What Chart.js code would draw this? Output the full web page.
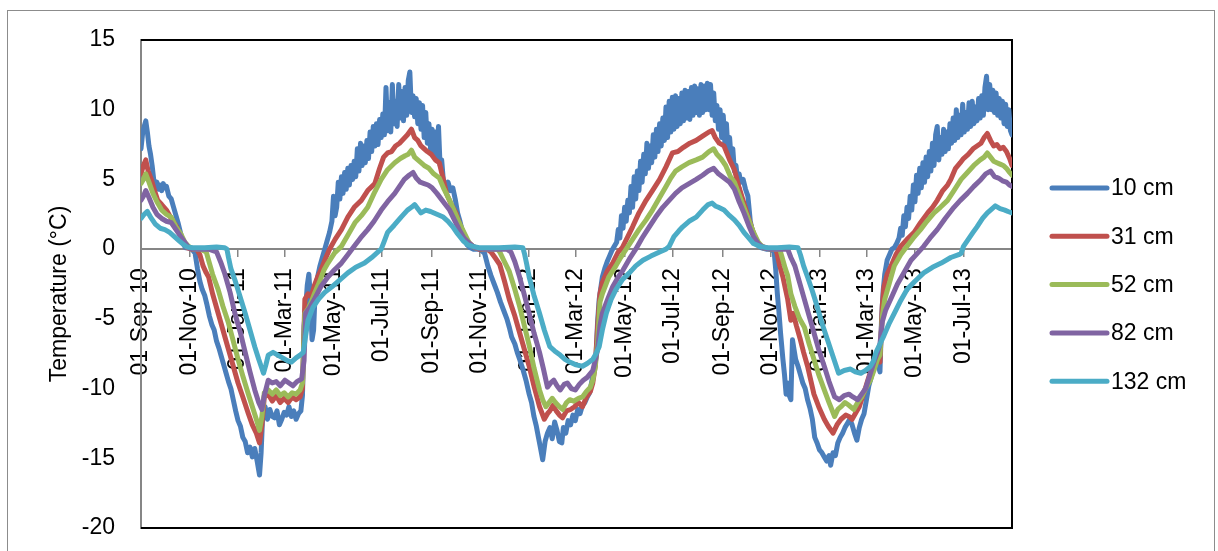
<!DOCTYPE html>
<html><head><meta charset="utf-8">
<script src="https://cdn.jsdelivr.net/npm/chart.js@4.4.0/dist/chart.umd.min.js"></script>
<style>html,body{margin:0;padding:0;background:#fff}#wrap{width:1218px;height:551px;position:relative}</style>
</head><body><div id="wrap"><canvas id="c" width="1218" height="551"></canvas></div>
<script>
// Day offsets are counted from 01-Sep-2010
const seriesNames = ['10 cm', '31 cm', '52 cm', '82 cm', '132 cm'];
const seriesColors = ['#4A7EBB', '#C0504D', '#9BBB59', '#8064A2', '#4BACC6'];
const tickLabels = ['01-Sep-10','01-Nov-10','01-Jan-11','01-Mar-11','01-May-11','01-Jul-11','01-Sep-11','01-Nov-11','01-Jan-12','01-Mar-12','01-May-12','01-Jul-12','01-Sep-12','01-Nov-12','01-Jan-13','01-Mar-13','01-May-13','01-Jul-13'];
const yTickValues = [-20, -15, -10, -5, 0, 5, 10, 15];
const yTitle = 'Temperature (°C)';

// 10 cm
const t10 = [[0,7.2],[2,8.3],[4,8.8],[6,9.2],[8,8.4],[10,7.4],[12,6.8],[14,6.0],[16,5.0],[18,4.6],[20,4.8],[22,4.3],[24,4.6],[26,4.2],[28,4.7],[30,4.4],[32,4.5],[35,3.8],[38,3.6],[41,3.0],[44,2.4],[47,1.8],[50,1.1],[53,0.4],[56,0.1],[60,0.1],[64,0.0],[68,-0.3],[71,-1.4],[74,-2.3],[77,-2.9],[80,-3.3],[83,-4.0],[86,-4.8],[89,-5.4],[92,-5.8],[95,-6.6],[98,-7.1],[101,-7.7],[104,-8.3],[107,-8.9],[110,-9.5],[113,-10.0],[116,-10.8],[119,-11.6],[122,-12.3],[125,-12.7],[128,-13.5],[131,-13.8],[134,-14.6],[137,-14.2],[140,-14.9],[143,-14.3],[146,-15.2],[149,-16.2],[151,-14.6],[153,-11.9],[156,-11.3],[159,-12.2],[162,-11.5],[165,-12.0],[168,-12.1],[171,-11.6],[174,-12.6],[177,-12.2],[180,-11.7],[183,-11.9],[186,-11.3],[189,-12.0],[192,-11.6],[195,-12.2],[198,-11.8],[201,-11.6],[203,-10.5],[205,-5.5],[207,-4.2],[209,-2.6],[211,-1.8],[213,-3.5],[215,-6.5],[217,-5.8],[219,-3.0],[222,-2.0],[225,-1.2],[228,-0.6],[231,0.0],[234,0.6],[237,1.2],[240,2.0],[242,3.8],[244,2.4],[246,3.0],[248,4.8],[250,3.6],[252,5.2],[254,4.0],[256,5.5],[258,4.3],[260,5.8],[262,4.6],[264,6.0],[266,5.0],[268,6.3],[270,5.2],[272,7.2],[274,5.6],[276,7.6],[278,6.0],[280,7.4],[282,6.2],[284,7.8],[286,6.5],[288,8.4],[290,7.0],[292,8.8],[294,7.4],[296,9.0],[298,7.5],[300,9.3],[302,8.0],[304,9.7],[306,8.2],[308,11.6],[310,8.5],[312,10.5],[314,8.4],[316,11.8],[318,9.0],[320,10.6],[322,8.8],[324,11.8],[326,9.4],[328,11.3],[330,9.2],[332,11.6],[334,9.6],[336,12.1],[338,12.7],[340,9.8],[342,11.0],[344,9.5],[346,10.8],[348,9.0],[350,10.5],[352,8.6],[354,10.3],[356,8.0],[358,9.8],[360,7.6],[362,9.0],[364,7.2],[366,8.6],[368,6.8],[370,8.4],[372,6.5],[374,8.8],[376,6.0],[378,6.4],[380,5.0],[383,4.5],[386,4.8],[389,4.2],[392,4.4],[395,3.6],[398,2.6],[401,2.0],[404,1.3],[407,0.7],[410,0.3],[414,0.1],[418,0.0],
[426,0.0],[432,-0.3],[436,-1.2],[440,-1.9],[444,-2.5],[448,-3.1],[452,-3.8],[456,-4.4],[460,-5.0],[463,-5.6],[466,-6.3],[470,-6.8],[473,-7.4],[476,-7.9],[480,-8.6],[484,-9.4],[488,-10.4],[491,-11.0],[494,-12.0],[497,-12.7],[500,-13.6],[502,-14.2],[505,-15.1],[508,-13.8],[511,-13.2],[514,-12.8],[517,-13.6],[520,-12.4],[523,-13.0],[526,-13.8],[529,-13.9],[531,-12.8],[534,-13.2],[537,-12.3],[540,-12.6],[543,-11.9],[546,-12.3],[549,-11.5],[552,-11.8],[555,-11.2],[558,-11.0],[561,-10.6],[564,-10.3],[567,-9.4],[570,-8.6],[572,-7.8],[574,-5.2],[576,-3.6],[578,-2.8],[580,-2.0],[583,-1.4],[586,-0.9],[589,-0.5],[592,-0.1],[595,0.2],[598,0.5],[600,1.4],[602,0.8],[604,2.4],[606,1.5],[608,3.0],[610,2.0],[612,3.5],[614,2.6],[616,4.5],[618,3.0],[620,5.2],[622,3.6],[624,5.6],[626,4.2],[628,6.3],[630,4.8],[632,6.8],[634,5.4],[636,7.6],[638,5.8],[640,7.4],[642,6.2],[644,8.2],[646,6.6],[648,8.6],[650,7.0],[652,9.0],[654,7.4],[656,9.4],[658,7.8],[660,10.2],[662,8.0],[664,10.6],[666,8.4],[668,10.9],[670,8.6],[672,11.0],[674,8.8],[676,10.8],[678,9.0],[680,11.2],[682,9.2],[684,11.4],[686,9.4],[688,11.3],[690,9.3],[692,11.6],[694,9.6],[696,11.7],[698,9.8],[700,11.5],[702,9.6],[704,11.8],[706,9.8],[708,11.7],[710,10.0],[712,11.9],[714,10.0],[716,11.8],[718,9.6],[720,11.2],[722,9.2],[724,10.3],[726,8.6],[728,10.0],[730,8.0],[732,9.6],[734,7.6],[736,9.0],[738,7.0],[740,8.0],[742,6.4],[744,7.2],[746,5.6],[748,6.0],[750,5.0],[752,5.4],[754,4.8],[757,5.0],[760,4.3],[763,3.8],[766,2.0],[769,1.2],[772,0.6],[775,0.3],[780,0.1],[786,0.0],[792,0.0],
[796,-0.2],[798,-1.5],[800,-3.2],[802,-4.5],[804,-6.0],[807,-7.9],[809,-9.0],[811,-10.4],[813,-9.6],[815,-10.5],[817,-10.8],[819,-6.5],[821,-7.2],[823,-7.9],[826,-8.4],[829,-9.0],[832,-9.6],[835,-10.0],[838,-10.8],[841,-11.4],[844,-12.2],[847,-13.5],[850,-13.9],[853,-14.4],[856,-14.6],[859,-14.9],[862,-15.2],[865,-14.8],[867,-15.5],[870,-14.6],[873,-14.8],[876,-13.9],[879,-13.5],[882,-13.2],[885,-12.8],[888,-12.5],[891,-12.2],[894,-12.6],[897,-13.2],[900,-13.7],[903,-12.8],[906,-12.2],[909,-11.8],[912,-10.8],[915,-9.8],[918,-9.2],[921,-8.5],[924,-7.9],[927,-8.4],[929,-8.8],[931,-5.0],[933,-3.0],[935,-1.8],[938,-0.8],[941,-0.4],[944,0.0],[947,0.1],[950,0.4],[953,0.8],[955,1.5],[957,1.0],[959,2.4],[961,1.6],[963,3.0],[965,2.2],[967,3.8],[969,2.8],[971,4.6],[973,3.4],[975,5.3],[977,4.0],[979,5.8],[981,4.4],[983,6.2],[985,4.8],[987,6.6],[989,5.2],[991,7.0],[993,5.6],[995,7.6],[997,6.0],[999,8.2],[1001,8.8],[1003,6.4],[1005,8.0],[1007,6.8],[1009,8.6],[1011,7.0],[1013,8.4],[1015,7.2],[1017,9.0],[1019,7.6],[1021,9.4],[1023,7.8],[1025,10.0],[1027,8.0],[1029,9.6],[1031,8.2],[1033,10.4],[1035,8.4],[1037,9.8],[1039,8.6],[1041,10.5],[1043,8.8],[1045,10.6],[1047,9.0],[1049,10.2],[1051,9.2],[1053,10.8],[1055,9.4],[1057,11.0],[1059,9.6],[1061,11.6],[1063,12.4],[1065,10.0],[1067,11.8],[1069,10.0],[1071,11.4],[1073,9.8],[1075,11.2],[1077,9.6],[1079,10.8],[1081,9.4],[1083,10.6],[1085,9.0],[1087,10.4],[1089,8.8],[1091,10.0],[1093,8.5],[1095,8.2]];

// 31 cm
const t31 = [[0,5.4],[3,6.0],[6,6.4],[9,5.6],[13,5.0],[17,4.2],[21,3.5],[26,3.2],[32,2.8],[38,2.2],[45,1.6],[50,0.9],[54,0.4],[58,0.1],[64,0.0],[70,0.0],[74,-0.4],[78,-1.2],[82,-1.7],[85,-2.0],[90,-3.2],[97,-4.6],[103,-5.8],[110,-7.2],[116,-8.4],[122,-9.6],[128,-10.6],[135,-11.8],[140,-12.6],[145,-13.2],[149,-13.9],[152,-12.6],[155,-10.6],[160,-10.4],[165,-10.9],[170,-10.5],[175,-11.0],[180,-10.7],[185,-11.0],[190,-10.6],[195,-10.8],[200,-10.6],[203,-10.0],[206,-3.6],[210,-3.2],[214,-3.4],[218,-2.6],[222,-2.0],[227,-1.4],[231,-0.8],[237,0.0],[244,0.7],[252,1.4],[260,2.3],[268,3.0],[277,3.5],[285,4.2],[294,4.7],[300,5.8],[305,6.6],[310,6.9],[315,7.0],[320,7.4],[325,7.6],[330,7.9],[335,8.2],[340,8.6],[344,8.0],[348,7.8],[352,7.4],[356,7.2],[360,7.0],[365,6.8],[370,6.4],[375,6.2],[380,5.0],[384,4.0],[390,3.2],[396,2.6],[400,1.9],[405,1.2],[410,0.6],[417,0.2],[425,0.0],[435,0.0],
[440,-0.2],[445,-0.6],[451,-1.1],[457,-2.3],[463,-3.6],[470,-4.8],[476,-6.0],[482,-7.2],[488,-8.4],[494,-9.8],[501,-11.3],[507,-12.2],[511,-11.8],[514,-11.6],[518,-11.2],[522,-11.6],[526,-11.9],[530,-12.1],[535,-11.6],[540,-11.5],[545,-11.3],[550,-11.0],[555,-11.3],[560,-10.6],[565,-10.2],[568,-9.6],[571,-8.4],[574,-5.6],[577,-3.2],[580,-2.4],[586,-1.6],[593,-1.0],[600,-0.2],[605,0.1],[612,0.9],[618,1.6],[626,2.6],[635,3.5],[643,4.2],[652,5.0],[660,5.9],[668,6.9],[675,7.0],[682,7.3],[690,7.6],[698,7.8],[706,8.1],[714,8.4],[718,8.5],[722,8.0],[727,7.6],[733,7.4],[740,6.4],[746,5.7],[752,4.4],[758,3.3],[764,2.2],[768,1.5],[773,0.7],[778,0.3],[785,0.1],[792,0.0],[798,0.0],
[800,-0.4],[803,-1.2],[807,-2.0],[810,-2.8],[813,-3.6],[817,-5.1],[820,-4.6],[824,-5.5],[829,-6.5],[833,-7.4],[838,-8.4],[842,-9.4],[846,-10.4],[852,-11.3],[859,-12.2],[864,-12.7],[870,-13.2],[875,-12.6],[880,-12.2],[886,-11.9],[890,-12.0],[894,-12.2],[899,-11.7],[903,-11.3],[907,-10.6],[911,-9.9],[916,-9.0],[920,-8.4],[926,-7.9],[929,-8.1],[932,-4.0],[934,-2.7],[938,-1.8],[943,-1.2],[949,-0.4],[955,0.2],[963,0.7],[972,1.2],[980,1.9],[989,2.6],[995,3.0],[1001,3.5],[1008,4.2],[1014,4.6],[1018,5.0],[1024,5.8],[1030,6.2],[1034,6.5],[1040,6.8],[1046,7.2],[1051,7.4],[1056,7.6],[1060,8.0],[1064,8.3],[1068,7.8],[1072,7.4],[1076,7.5],[1080,7.2],[1084,7.3],[1088,7.0],[1092,6.5],[1095,6.0]];

// 52 cm
const t52 = [[0,4.7],[3,5.0],[6,5.4],[10,4.8],[15,4.0],[20,3.4],[26,2.8],[32,2.5],[38,2.3],[44,1.6],[50,1.1],[55,0.5],[60,0.2],[66,0.0],[75,0.0],[82,-0.2],[86,-1.0],[90,-1.8],[97,-2.9],[103,-4.1],[110,-5.3],[116,-6.6],[122,-7.9],[128,-9.1],[135,-10.4],[140,-11.3],[145,-12.2],[149,-13.0],[152,-12.0],[155,-10.3],[160,-10.1],[165,-10.4],[170,-10.1],[175,-10.5],[180,-10.3],[185,-10.6],[190,-10.3],[195,-10.4],[200,-10.1],[203,-9.6],[206,-4.6],[210,-4.3],[214,-3.8],[218,-3.2],[224,-2.4],[230,-1.5],[235,-1.0],[243,-0.3],[252,0.2],[260,1.0],[269,1.9],[277,2.4],[285,3.0],[293,4.0],[302,5.0],[310,5.7],[319,6.2],[326,6.5],[332,6.7],[336,6.8],[340,7.1],[344,6.6],[348,6.4],[352,6.2],[356,6.0],[362,5.8],[368,5.4],[375,5.1],[381,4.3],[388,3.5],[394,2.7],[400,1.9],[406,1.2],[413,0.4],[420,0.1],[430,0.0],[448,0.0],
[451,-0.2],[456,-0.8],[463,-1.6],[470,-2.9],[476,-4.1],[482,-5.5],[488,-6.9],[494,-8.5],[501,-10.1],[505,-10.8],[509,-11.3],[513,-11.0],[517,-10.7],[521,-11.0],[526,-11.3],[530,-11.5],[535,-11.0],[539,-10.8],[544,-10.9],[550,-10.7],[555,-10.6],[560,-10.2],[565,-9.9],[568,-9.4],[571,-8.5],[574,-6.7],[577,-3.8],[580,-3.2],[588,-2.0],[597,-1.2],[603,-0.6],[610,0.0],[618,0.7],[626,1.4],[635,2.1],[643,2.8],[652,3.7],[660,4.5],[666,5.1],[672,5.6],[680,5.9],[689,6.2],[698,6.4],[706,6.6],[714,7.0],[720,7.2],[724,6.8],[729,6.5],[735,6.0],[741,5.2],[746,4.8],[752,3.9],[758,3.0],[764,2.1],[770,1.2],[776,0.5],[782,0.1],[790,0.0],[803,0.0],
[806,-0.6],[810,-1.4],[813,-1.9],[817,-3.2],[822,-4.1],[828,-5.0],[834,-5.6],[840,-6.8],[846,-7.9],[852,-9.0],[859,-10.1],[865,-11.0],[872,-12.0],[876,-11.5],[880,-11.3],[885,-11.0],[890,-11.2],[896,-11.5],[901,-11.0],[906,-10.6],[911,-10.0],[917,-9.4],[922,-8.6],[926,-7.9],[929,-7.6],[932,-4.8],[935,-3.6],[941,-2.4],[947,-1.2],[955,-0.4],[963,0.2],[971,0.8],[980,1.4],[988,2.0],[997,2.6],[1005,3.0],[1014,3.5],[1022,4.2],[1031,5.0],[1039,5.5],[1047,6.0],[1055,6.4],[1060,6.6],[1064,6.9],[1068,6.6],[1072,6.3],[1076,6.2],[1080,6.1],[1084,6.0],[1088,5.8],[1092,5.5],[1095,5.3]];

// 82 cm
const t82 = [[0,3.5],[3,3.8],[6,4.2],[10,3.7],[15,3.0],[20,2.5],[26,2.2],[32,2.0],[38,1.9],[44,1.4],[50,0.9],[55,0.5],[60,0.1],[66,0.0],[85,0.0],[95,-0.2],[100,-0.9],[105,-1.7],[112,-3.1],[118,-4.6],[125,-6.0],[131,-7.4],[137,-8.8],[143,-10.1],[148,-11.0],[152,-11.5],[155,-10.5],[160,-9.4],[165,-9.6],[170,-9.5],[175,-9.8],[181,-9.4],[186,-9.6],[191,-9.8],[196,-9.5],[202,-9.3],[205,-8.0],[207,-4.6],[212,-4.2],[218,-3.6],[226,-2.7],[235,-2.0],[243,-1.5],[252,-1.0],[260,-0.4],[268,0.2],[276,0.8],[285,1.4],[293,2.0],[302,2.8],[310,3.4],[319,4.0],[325,4.5],[331,5.0],[337,5.3],[342,5.5],[346,5.1],[351,4.8],[356,4.7],[361,4.6],[366,4.4],[372,4.0],[380,3.4],[388,2.8],[394,2.1],[400,1.4],[406,0.8],[413,0.4],[420,0.1],[430,0.0],[460,0.0],
[465,-0.2],[470,-0.9],[476,-2.0],[482,-3.3],[488,-4.6],[494,-6.0],[501,-7.4],[506,-8.6],[511,-9.9],[515,-9.6],[519,-9.4],[523,-9.8],[527,-10.1],[532,-9.7],[536,-9.6],[541,-10.0],[546,-10.1],[551,-9.7],[556,-9.4],[561,-9.2],[568,-8.7],[571,-8.0],[574,-7.2],[577,-5.5],[580,-4.6],[586,-3.7],[593,-2.7],[600,-2.0],[606,-1.5],[614,-0.7],[622,0.0],[630,0.8],[639,1.6],[647,2.3],[656,3.0],[664,3.5],[672,4.0],[680,4.4],[689,4.7],[698,5.0],[706,5.3],[713,5.6],[720,5.8],[726,5.4],[733,5.1],[740,4.8],[746,4.3],[752,3.4],[758,2.6],[764,1.7],[770,0.9],[776,0.4],[782,0.1],[790,0.0],[813,0.0],
[817,-0.6],[822,-1.2],[828,-2.4],[834,-3.6],[840,-4.8],[846,-6.0],[852,-7.2],[859,-8.4],[865,-9.5],[872,-10.6],[878,-10.8],[884,-10.5],[890,-10.4],[895,-10.6],[901,-10.8],[906,-10.4],[911,-10.0],[917,-8.9],[922,-8.0],[926,-7.4],[929,-6.8],[932,-5.2],[936,-4.4],[944,-3.4],[951,-2.5],[960,-1.6],[968,-0.8],[976,-0.3],[984,0.2],[992,0.8],[1001,1.4],[1011,2.2],[1022,3.0],[1030,3.5],[1039,4.0],[1047,4.5],[1056,5.0],[1062,5.4],[1068,5.6],[1073,5.2],[1078,5.1],[1083,4.9],[1088,4.8],[1092,4.6],[1095,4.5]];

// 132 cm
const t132 = [[0,2.2],[4,2.5],[8,2.7],[12,2.3],[18,1.8],[24,1.5],[30,1.4],[36,1.2],[42,0.9],[48,0.6],[54,0.3],[58,0.15],[65,0.1],[80,0.1],[95,0.15],[105,0.1],[108,0.0],[110,-0.6],[113,-1.4],[118,-2.2],[124,-3.3],[131,-4.6],[137,-5.8],[143,-7.0],[148,-7.9],[154,-8.9],[157,-8.3],[160,-7.6],[166,-7.4],[172,-7.6],[178,-7.8],[184,-8.0],[189,-8.1],[195,-7.8],[200,-7.6],[204,-7.4],[207,-6.2],[210,-5.1],[216,-4.2],[223,-3.6],[231,-3.1],[240,-2.7],[250,-2.2],[260,-1.7],[270,-1.3],[281,-1.0],[290,-0.6],[298,-0.2],[302,0.0],[306,0.6],[310,1.2],[318,1.7],[327,2.3],[335,2.8],[340,3.0],[344,3.2],[348,2.9],[352,2.6],[358,2.8],[364,2.7],[372,2.5],[380,2.3],[386,2.0],[392,1.6],[398,1.1],[405,0.6],[411,0.3],[417,0.2],[425,0.1],[450,0.1],[470,0.15],[480,0.1],
[482,-0.3],[485,-1.1],[488,-2.0],[494,-3.3],[501,-4.6],[507,-5.8],[514,-7.0],[520,-7.3],[527,-7.6],[533,-7.9],[539,-8.1],[547,-8.3],[555,-8.4],[561,-8.2],[568,-7.9],[572,-7.5],[576,-7.0],[580,-5.8],[585,-4.6],[591,-3.6],[597,-2.9],[605,-2.2],[614,-1.7],[622,-1.2],[631,-0.8],[641,-0.5],[652,-0.2],[660,0.0],[664,0.2],[670,0.9],[676,1.3],[681,1.6],[689,2.0],[698,2.3],[706,2.8],[713,3.2],[718,3.3],[722,3.1],[726,3.0],[733,2.8],[740,2.4],[746,2.1],[752,1.7],[758,1.2],[764,0.8],[770,0.4],[778,0.2],[788,0.1],[800,0.1],[815,0.15],[826,0.1],
[829,-0.4],[833,-1.2],[838,-2.0],[844,-3.0],[850,-4.1],[856,-5.3],[863,-6.5],[870,-7.7],[877,-8.9],[884,-8.7],[892,-8.6],[898,-8.8],[905,-8.9],[911,-8.7],[917,-8.4],[921,-8.0],[924,-7.4],[929,-6.8],[934,-6.2],[940,-5.4],[947,-4.6],[955,-3.7],[963,-2.9],[973,-2.3],[984,-1.7],[995,-1.3],[1006,-1.0],[1018,-0.6],[1028,-0.4],[1031,-0.3],[1034,0.2],[1040,0.7],[1046,1.2],[1051,1.6],[1058,2.2],[1064,2.6],[1068,2.8],[1074,3.1],[1080,2.9],[1086,2.8],[1090,2.7],[1095,2.6]];

const allSeries = [t10, t31, t52, t82, t132];
const xMaxDay = 1095;

const MONTHS = {Jan:0,Feb:1,Mar:2,Apr:3,May:4,Jun:5,Jul:6,Aug:7,Sep:8,Oct:9,Nov:10,Dec:11};
const ORIGIN = Date.UTC(2010, 8, 1);
function labelToDay(lbl) {
  const [d, m, y] = lbl.split('-');
  return Math.round((Date.UTC(2000 + (+y), MONTHS[m], +d) - ORIGIN) / 86400000);
}
const tickDays = tickLabels.map(labelToDay);

const FONT = '"Liberation Sans", Arial, sans-serif';

const framePlugin = {
  id: 'frame',
  beforeDatasetsDraw(chart) {
    const {ctx, chartArea: a} = chart;
    ctx.save();
    ctx.strokeStyle = '#000';
    ctx.lineWidth = 2;
    ctx.beginPath();
    ctx.moveTo(a.left, a.top); ctx.lineTo(a.right, a.top);
    ctx.lineTo(a.right, a.bottom); ctx.lineTo(a.left, a.bottom);
    ctx.stroke();
    ctx.restore();
  },
  afterDraw(chart) {
    const {ctx} = chart;
    ctx.save();
    ctx.strokeStyle = '#8c8c8c';
    ctx.lineWidth = 1;
    ctx.strokeRect(7.5, 10.5, 1207, 560);
    // axis title
    ctx.fillStyle = '#000';
    ctx.font = '23px ' + FONT;
    ctx.translate(60, 294);
    ctx.rotate(-Math.PI / 2);
    ctx.textAlign = 'center';
    ctx.textBaseline = 'middle';
    ctx.fillText(yTitle, 0, 0);
    ctx.setTransform(1, 0, 0, 1, 0, 0);
    // legend
    const x0 = 1052, x1 = 1107, y0 = 188, dy = 48.3;
    chart.data.datasets.forEach((ds, i) => {
      const y = y0 + i * dy;
      ctx.strokeStyle = ds.borderColor;
      ctx.lineWidth = 5;
      ctx.lineCap = 'round';
      ctx.beginPath(); ctx.moveTo(x0, y); ctx.lineTo(x1, y); ctx.stroke();
      ctx.fillStyle = '#000';
      ctx.font = '23px ' + FONT;
      ctx.textBaseline = 'middle';
      ctx.textAlign = 'left';
      ctx.fillText(ds.label, 1111, y + 1);
    });
    ctx.restore();
  }
};

new Chart(document.getElementById('c'), {
  type: 'line',
  data: {
    datasets: allSeries.map((s, i) => ({
      label: seriesNames[i],
      data: s.map(([d, v]) => ({x: d, y: v})),
      borderColor: seriesColors[i],
      backgroundColor: seriesColors[i],
      borderWidth: 5,
      pointRadius: 0,
      tension: 0,
      fill: false,
      borderJoinStyle: 'round',
      borderCapStyle: 'round',
      order: 5 - i
    }))
  },
  options: {
    responsive: false,
    animation: false,
    devicePixelRatio: 1,
    layout: {padding: {left: 0, top: 40, right: 206, bottom: 23}},
    plugins: {legend: {display: false}, tooltip: {enabled: false}},
    scales: {
      x: {
        type: 'linear',
        min: 0, max: xMaxDay,
        position: {y: 0},
        afterFit(s) { s.height = 0; s.paddingLeft = 0; s.paddingRight = 0; s.paddingTop = 0; s.paddingBottom = 0; },
        afterBuildTicks(s) { s.ticks = tickDays.map(v => ({value: v})); },
        ticks: {
          autoSkip: false, minRotation: 90, maxRotation: 90,
          padding: 12, color: '#000',
          font: {size: 23, family: FONT},
          callback: (v, i) => tickLabels[i]
        },
        grid: {display: true, drawOnChartArea: false, drawTicks: true, tickLength: 7, color: '#868686', lineWidth: 1.5},
        border: {display: true, color: '#868686', width: 2}
      },
      y: {
        type: 'linear',
        min: -20, max: 15,
        afterFit(s) { s.width = 141; s.paddingTop = 0; s.paddingBottom = 0; },
        afterBuildTicks(s) { s.ticks = yTickValues.map(v => ({value: v})); },
        ticks: {padding: 26, color: '#000', font: {size: 23, family: FONT}},
        grid: {display: true, drawOnChartArea: false, drawTicks: false},
        border: {display: true, color: '#868686', width: 2},
        title: {display: false}
      }
    }
  },
  plugins: [framePlugin]
});
</script></body></html>
